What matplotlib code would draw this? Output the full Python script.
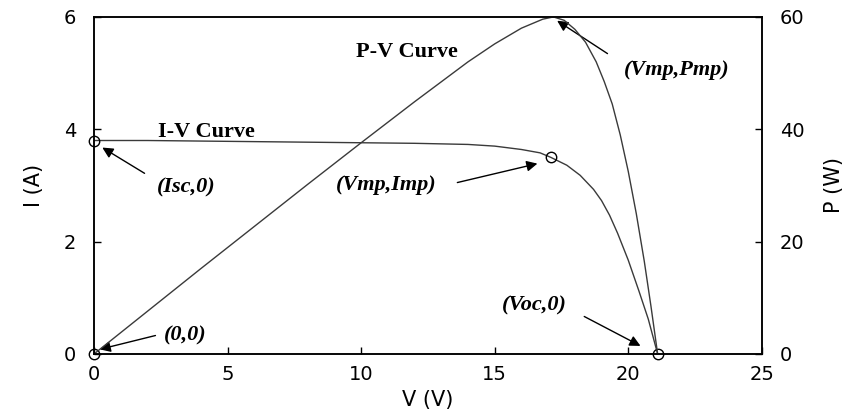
import matplotlib
matplotlib.use("Agg")
import matplotlib.pyplot as plt

# I-V curve
iv_volts = [0, 2, 4, 6, 8, 10, 12, 14, 15, 16, 16.7, 17.1, 17.7, 18.2, 18.7,
            19.0, 19.3, 19.6, 20.0, 20.4, 20.75, 21.1]
iv_amps = [3.80, 3.80, 3.79, 3.78, 3.77, 3.76, 3.75, 3.73, 3.70, 3.64, 3.58,
           3.50, 3.36, 3.18, 2.93, 2.73, 2.47, 2.15, 1.67, 1.12, 0.62, 0.0]

# P-V curve
pv_volts = [0, 2, 4, 6, 8, 10, 12, 14, 15, 16, 16.8, 17.2, 17.6, 18.0, 18.4,
            18.8, 19.1, 19.4, 19.7, 20.0, 20.3, 20.6, 20.85, 21.1]
pv_watts = [0, 7.6, 15.2, 22.7, 30.2, 37.6, 44.9, 52.0, 55.2, 58.0, 59.6, 60.0,
            59.4, 57.8, 55.5, 52.0, 48.5, 44.5, 39.0, 32.5, 25.0, 16.5, 8.5, 0.0]

# circled points on the I-V curve
mark_volts = [0, 0, 17.1, 21.1]
mark_amps = [0, 3.8, 3.5, 0]

x_ticks = [0, 5, 10, 15, 20, 25]
i_ticks = [0, 2, 4, 6]
p_ticks = [0, 20, 40, 60]

line_col = "#3a3a3a"
note_font = dict(family="Liberation Serif", weight="bold", style="italic", size=16)
arrow = dict(arrowstyle="-|>", color="black", lw=1.0, mutation_scale=16)

fig = plt.figure(figsize=(8.55, 4.13), dpi=100)
ax = fig.add_axes([0.110, 0.143, 0.781, 0.816])
ax2 = ax.twinx()

ax.plot(iv_volts, iv_amps, color=line_col, lw=1.0)
ax.plot(mark_volts, mark_amps, "o", mfc="none", mec="black", ms=7.5, mew=1.0,
        clip_on=False, zorder=5)
ax2.plot(pv_volts, pv_watts, color=line_col, lw=1.0)

ax.set_xlim(0, 25)
ax.set_ylim(0, 6)
ax2.set_ylim(0, 60)
ax.set_xticks(x_ticks)
ax.set_yticks(i_ticks)
ax2.set_yticks(p_ticks)

for a in (ax, ax2):
    a.tick_params(direction="in", length=5, width=1.0, labelsize=14)
    for s in a.spines.values():
        s.set_linewidth(1.1)
ax.tick_params(axis="y", pad=13)
ax.tick_params(axis="x", pad=8)
ax2.tick_params(axis="y", pad=13)

ax.set_xlabel("V (V)", fontsize=15, labelpad=4)
ax.set_ylabel("I (A)", fontsize=15, labelpad=14)
ax2.set_ylabel("P (W)", fontsize=15, labelpad=14)

# curve names
ax.text(4.21, 3.96, "I-V Curve", ha="center", va="center",
        family="Liberation Serif", weight="bold", size=16)
ax.text(11.73, 5.38, "P-V Curve", ha="center", va="center",
        family="Liberation Serif", weight="bold", size=16)

# point labels with arrows
ax.text(3.46, 2.96, "(Isc,0)", ha="center", va="center", **note_font)
ax.annotate("", xy=(0.22, 3.70), xytext=(1.98, 3.19), arrowprops=arrow)
ax.text(3.41, 0.32, "(0,0)", ha="center", va="center", **note_font)
ax.annotate("", xy=(0.11, 0.07), xytext=(2.40, 0.34), arrowprops=arrow)
ax.text(10.93, 3.01, "(Vmp,Imp)", ha="center", va="center", **note_font)
ax.annotate("", xy=(16.7, 3.40), xytext=(13.5, 3.04), arrowprops=arrow)
ax.text(21.82, 5.06, "(Vmp,Pmp)", ha="center", va="center", **note_font)
ax.annotate("", xy=(17.25, 5.96), xytext=(19.31, 5.32), arrowprops=arrow)
ax.text(16.47, 0.87, "(Voc,0)", ha="center", va="center", **note_font)
ax.annotate("", xy=(20.55, 0.12), xytext=(18.26, 0.69), arrowprops=arrow)

fig.savefig("out.png", dpi=100)
